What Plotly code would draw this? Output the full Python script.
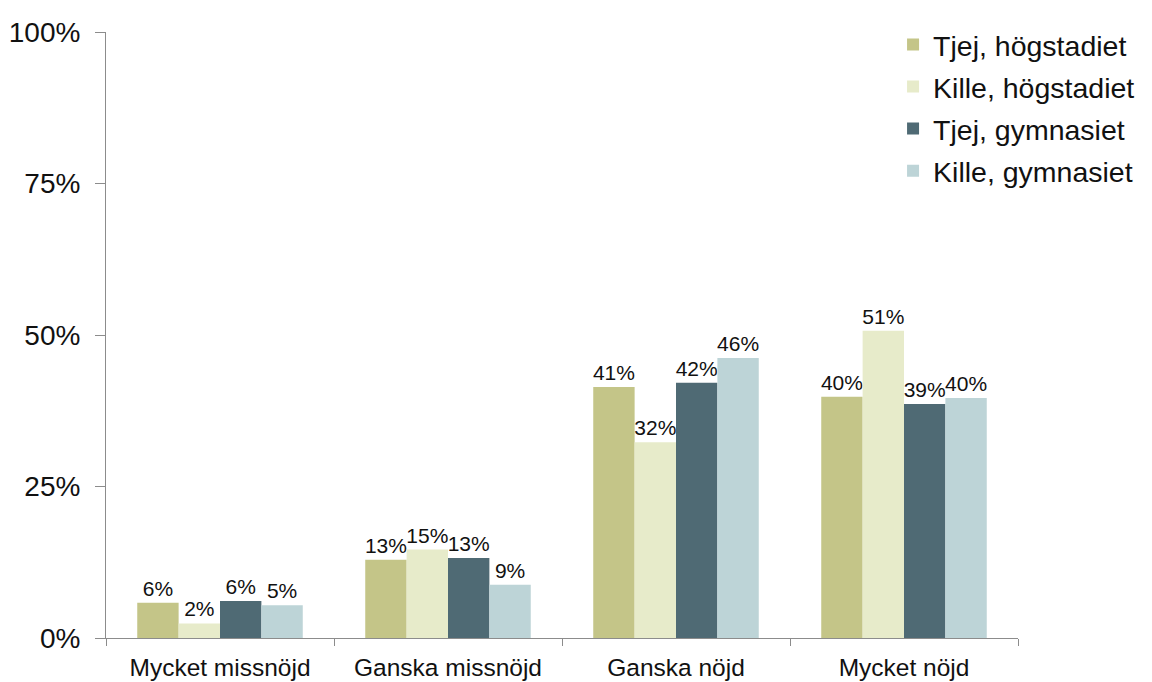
import plotly.graph_objects as go

categories = ["Mycket missnöjd", "Ganska missnöjd", "Ganska nöjd", "Mycket nöjd"]
series_names = ["Tjej, högstadiet", "Kille, högstadiet", "Tjej, gymnasiet", "Kille, gymnasiet"]
tjej_hog = [5.8, 12.9, 41.4, 39.8]
kille_hog = [2.4, 14.6, 32.3, 50.7]
tjej_gym = [6.1, 13.2, 42.1, 38.6]
kille_gym = [5.4, 8.8, 46.2, 39.6]
colors = ["#C4C588", "#E7EBCA", "#4F6A74", "#BDD4D7"]
y_ticks = [0, 25, 50, 75, 100]

FONT = "Liberation Sans, Arial, sans-serif"

fig = go.Figure()
for i, (name, vals) in enumerate(zip(series_names, [tjej_hog, kille_hog, tjej_gym, kille_gym])):
    fig.add_trace(go.Bar(
        x=categories, y=vals, name=name, legendgroup=name,
        marker=dict(color=colors[i], line=dict(width=0)),
        text=[f"{v:.0f}%" for v in vals], textposition="outside",
        textfont=dict(size=21, color="#111", family=FONT),
        constraintext="none", cliponaxis=False,
    ))

fig.update_layout(
    barmode="group", bargap=0.274, bargroupgap=0,
    width=1152, height=682,
    margin=dict(l=106, r=116, t=32, b=44),
    paper_bgcolor="white", plot_bgcolor="white",
    font=dict(family=FONT, color="#111"),
    legend=dict(x=0.863, y=1.0207, xanchor="left", yanchor="top",
                font=dict(size=28.5, family=FONT, color="#111"),
                tracegroupgap=2, bgcolor="rgba(0,0,0,0)",
                itemwidth=30),
)
fig.update_yaxes(range=[0, 100], tickvals=y_ticks, ticktext=[f"{t}%" for t in y_ticks],
                 automargin=False,
                 showgrid=False, zeroline=False, showline=True, linecolor="#8c8c8c", linewidth=1,
                 ticks="outside", ticklen=10, tickcolor="#8c8c8c",
                 ticklabelstandoff=9,
                 tickfont=dict(size=28, family=FONT, color="#111"))
fig.update_xaxes(showgrid=False, showline=True, linecolor="#8c8c8c", linewidth=1,
                 automargin=False,
                 ticks="outside", tickson="boundaries", ticklen=7, tickcolor="#8c8c8c",
                 ticklabelstandoff=8,
                 tickfont=dict(size=24.5, family=FONT, color="#111"))

fig.write_html("out.html", config={"displayModeBar": False},
               post_script="document.body.style.margin='0';document.body.style.overflow='hidden';")
